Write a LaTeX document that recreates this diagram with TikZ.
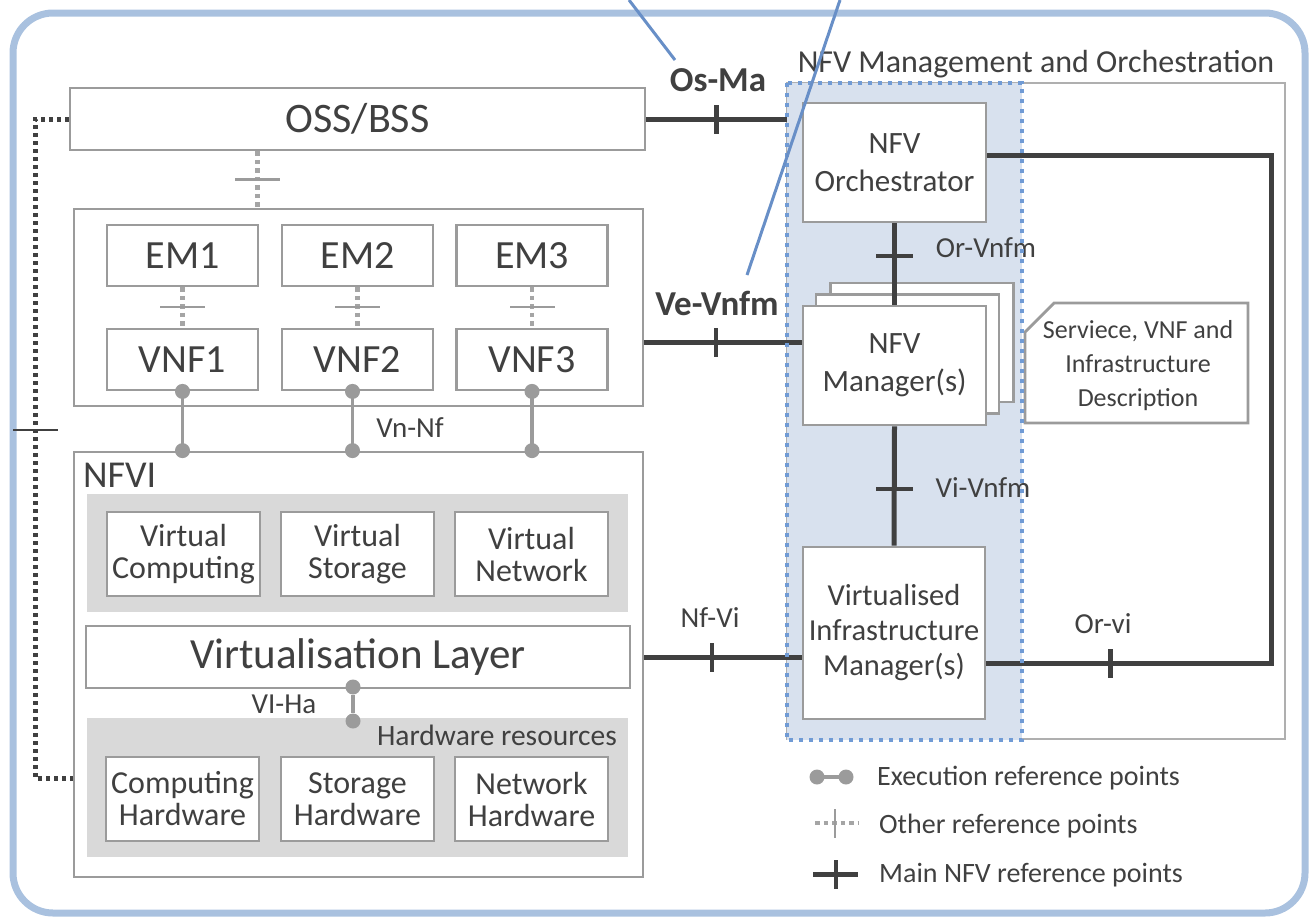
\documentclass[tikz,border=0pt]{standalone}
\usepackage{fontspec}
\setmainfont{Carlito}
\usetikzlibrary{calc}
\definecolor{frameblue}{RGB}{169,193,223}
\definecolor{pointerblue}{RGB}{104,143,199}
\definecolor{manofill}{RGB}{216,225,238}
\definecolor{manoedge}{RGB}{112,155,213}
\definecolor{boxedge}{RGB}{155,155,155}
\definecolor{bandfill}{RGB}{217,217,217}
\definecolor{darkline}{RGB}{64,64,64}
\definecolor{txt}{RGB}{64,64,64}
\newcommand{\fs}[2]{\fontsize{#1}{#2}\selectfont}
\begin{document}
\begin{tikzpicture}[x=1pt,y=-1pt,
  every node/.style={text=txt},
  gbox/.style={draw=boxedge, line width=2.8pt, fill=white, inner sep=0pt, align=center},
  band/.style={fill=bandfill, inner sep=0pt},
  mainline/.style={draw=darkline, line width=5pt},
  execline/.style={draw=boxedge, line width=3.8pt},
  otherline/.style={draw=boxedge!90, line width=4.5pt, dash pattern=on 4.5pt off 4pt},
  vtick/.style={fill=darkline, inner sep=0pt, minimum width=4.5pt, minimum height=29pt},
  htick/.style={fill=darkline, inner sep=0pt, minimum width=37pt, minimum height=4.5pt},
  otick/.style={fill=boxedge, inner sep=0pt, minimum width=45pt, minimum height=2.5pt},
  votick/.style={fill=boxedge, inner sep=0pt, minimum width=2.5pt, minimum height=29pt},
  ltick/.style={fill=darkline, inner sep=0pt, minimum width=45pt, minimum height=2.5pt},
  dot/.style={circle, fill=boxedge, inner sep=0pt, minimum size=15pt},
  lbl/.style={font=\fs{29}{32}, inner sep=0pt, anchor=base},
  big/.style={font=\fs{40}{44}},
  mid/.style={font=\fs{32}{32}},
  mano/.style={font=\fs{31}{38}},
]
\useasboundingbox (0,0) rectangle (1311,919);

% outer frame
\node[draw=frameblue, line width=7pt, rounded corners=40pt, minimum width=1292pt,
      minimum height=900pt, inner sep=0pt] (frame) at (659,463) {};

% management and orchestration area
\node[draw=boxedge!80, line width=1.8pt, minimum width=498pt, minimum height=656pt,
      inner sep=0pt] (mano) at (1036,411) {};
\node[fill=manofill, minimum width=235pt, minimum height=657pt, inner sep=0pt]
      (manoarea) at (904.5,411.5) {};
\node[font=\fs{32}{34}, anchor=base, inner sep=0pt] (manotitle) at (1036,72)
      {NFV Management and Orchestration};

% OSS/BSS and the VNF layer
\node[gbox, font=\fs{42}{44}, minimum width=575pt, minimum height=62pt] (oss) at (357.5,119) {OSS/BSS};
\node[gbox, minimum width=569pt, minimum height=197pt] (vnfc) at (358.5,307.5) {};
\foreach \i/\x in {1/182.5,2/357.5,3/532}{
  \node[gbox, big, minimum width=151pt, minimum height=61pt] (em\i) at (\x,255.5) {EM\i};
  \node[gbox, big, minimum width=151pt, minimum height=61pt] (vnf\i) at (\x,359.5) {VNF\i};
  \draw[otherline] (em\i.south) -- node[pos=0.49, otick]{} (vnf\i.north);
}
\draw[otherline] (oss.south -| 257.6,0) -- node[pos=0.5, otick]{} (vnfc.north -| 257.6,0);

% NFVI
\node[gbox, minimum width=569pt, minimum height=425pt] (nfvi) at (358.5,664.5) {};
\node[font=\fs{38}{40}, anchor=base west, inner sep=0pt] (nfvitxt) at (83,487) {NFVI};
\node[band, minimum width=541pt, minimum height=118pt] (vband) at (357.5,553) {};
\node[gbox, mid, minimum width=153pt, minimum height=84pt] (vc) at (183.5,554) {Virtual\\Computing};
\node[gbox, mid, minimum width=153pt, minimum height=84pt] (vs) at (357.5,554) {Virtual\\Storage};
\node[gbox, mid, minimum width=153pt, minimum height=84pt] (vn) at (531.5,554) {Virtual\\Network};
\node[gbox, font=\fs{43}{46}, minimum width=544pt, minimum height=62pt] (vl) at (358,657) {Virtualisation Layer};
\node[band, minimum width=541pt, minimum height=139pt] (hband) at (357.5,787.5) {};
\node[lbl, anchor=base east, font=\fs{29.5}{32}] (hwtxt) at (617,745) {Hardware resources};
\node[gbox, mid, minimum width=153pt, minimum height=84pt] (ch) at (182.5,799) {Computing\\Hardware};
\node[gbox, mid, minimum width=153pt, minimum height=84pt] (sh) at (357.5,799) {Storage\\Hardware};
\node[gbox, mid, minimum width=153pt, minimum height=84pt] (nh) at (531.5,799) {Network\\Hardware};

% execution reference points
\coordinate (x2) at ($(vnf2.south)+(-5,0)$);
\foreach \a in {vnf1.south, x2, vnf3.south}{
  \draw[execline] (\a) -- (\a |- nfvi.north);
  \node[dot] at (\a) {};
  \node[dot] at (\a |- nfvi.north) {};
}
\node[lbl] (vnnf) at (410,437) {Vn-Nf};
\node[dot] (viha1) at (353,687) {};
\node[dot] (viha2) at (353,721) {};
\draw[execline] (viha1) -- (viha2);
\node[lbl] (vihatxt) at (284,713) {VI-Ha};

% OSS/BSS to NFVI
\draw[darkline, line width=5pt, dash pattern=on 4pt off 4pt]
  (oss.west) -- (35,119) -- node[pos=0.472, ltick]{} (35,778) -- (nfvi.west |- 0,778);

% management blocks
\node[gbox, mano, minimum width=183pt, minimum height=119pt] (orch) at (894.5,162.5) {NFV\\Orchestrator};
\node[gbox, minimum width=183pt, minimum height=119pt] (vnfmb) at (922,342.5) {};
\node[gbox, minimum width=183pt, minimum height=119pt] (vnfmm) at (907.5,354) {};
\node[gbox, mano, minimum width=183pt, minimum height=119pt] (vnfm) at (894.5,365.5) {NFV\\Manager(s)};
\node[gbox, font=\fs{30.5}{35}, minimum width=182pt, minimum height=172pt] (vim) at (894,633) {Virtualised\\Infrastructure\\Manager(s)};
\draw[draw=boxedge, line width=2.8pt, fill=white]
  (1054,303) -- (1248,303) -- (1248,423) -- (1025,423) -- (1025,332) -- cycle;
\node[font=\fs{26}{34}, align=center, inner sep=0pt] (desc) at (1138,366)
  {Serviece, VNF and\\Infrastructure\\Description};

% main reference points
\draw[mainline] (orch.south) -- node[pos=0.40, htick]{} (vnfm.north);
\node[lbl] (orvnfm) at (986,257) {Or-Vnfm};
\draw[mainline] (vnfm.south) -- node[pos=0.525, htick]{} (vim.north);
\node[lbl] (vivnfm) at (983,497) {Vi-Vnfm};
\draw[mainline] (oss.east) -- node[pos=0.5, vtick]{} (oss.east -| manoarea.west);
\node[font=\fs{35}{38}\bfseries, anchor=base, inner sep=0pt] (osma) at (718,91) {Os-Ma};
\draw[mainline] (vnfc.east |- 0,342) -- node[pos=0.456, vtick]{} (vnfm.west |- 0,342);
\node[font=\fs{35}{38}\bfseries, anchor=base, inner sep=0pt] (vevnfm) at (717,315) {Ve-Vnfm};
\draw[mainline] (vl.east -| nfvi.east) -- node[pos=0.43, vtick]{} (vl.east -| vim.west);
\node[lbl] (nfvi2) at (710,627) {Nf-Vi};
\draw[mainline, line join=miter] (orch.east |- 0,155) -- (1271,155) -- (1271,663)
  -- node[pos=0.564, vtick]{} (vim.east |- 0,663);
\node[lbl] (orvi) at (1103,633) {Or-vi};

% dotted boundary of the management area
\draw[manoedge, line width=4pt, dash pattern=on 4pt off 6pt]
  (manoarea.north west) rectangle (manoarea.south east);

% callout pointers
\coordinate (pa) at (629,0);
\coordinate (pb) at (840,0);
\draw[pointerblue, line width=3pt] (pa) -- (675,60);
\draw[pointerblue, line width=3pt] (pb) -- (747,275);

% legend
\coordinate (lx1) at (817,777);
\coordinate (lx2) at (846,777);
\draw[execline] (lx1) -- (lx2);
\node[dot] at (lx1) {};
\node[dot] at (lx2) {};
\node[lbl, anchor=base west, font=\fs{28}{30}] (lxt) at (877,785) {Execution reference points};
\coordinate (lo1) at (815,823);
\coordinate (lo2) at (858,823);
\draw[otherline] (lo1) -- node[pos=0.46, votick]{} (lo2);
\node[lbl, anchor=base west, font=\fs{28}{30}] (lot) at (879,833) {Other reference points};
\coordinate (lm1) at (813,874);
\coordinate (lm2) at (858,874);
\draw[mainline] (lm1) -- node[pos=0.51, vtick]{} (lm2);
\node[lbl, anchor=base west, font=\fs{28}{30}] (lmt) at (879,882) {Main NFV reference points};
\end{tikzpicture}
\end{document}
